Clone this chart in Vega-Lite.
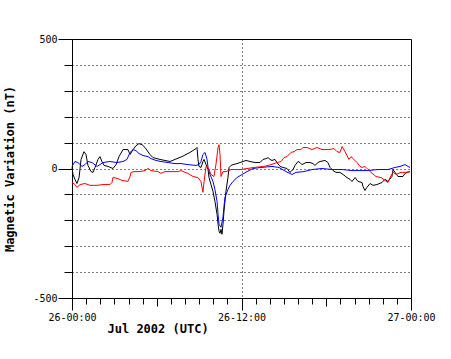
{
  "$schema": "https://vega.github.io/schema/vega-lite/v6.json",
  "width": 339,
  "height": 259,
  "autosize": {"type": "none"},
  "padding": {"left": 72, "top": 39, "right": 40, "bottom": 61},
  "background": "white",
  "config": {
    "view": {"stroke": "black", "strokeWidth": 1},
    "axis": {
      "domainColor": "black",
      "tickColor": "black",
      "gridColor": "black",
      "labelColor": "black",
      "titleColor": "black",
      "labelFont": "DejaVu Sans Mono",
      "titleFont": "DejaVu Sans Mono",
      "labelFontSize": 10,
      "titleFontSize": 12,
      "titleFontWeight": "bold",
      "labelOverlap": false,
      "labelFlush": false,
      "labelBound": false
    }
  },
  "data": {
    "values": [
      {"s":"black","t":0,"v":4},{"s":"black","t":0.07,"v":-23},{"s":"black","t":0.21,"v":-42},{"s":"black","t":0.35,"v":-58},{"s":"black","t":0.5,"v":-35},{"s":"black","t":0.64,"v":35},{"s":"black","t":0.85,"v":65},{"s":"black","t":0.99,"v":54},{"s":"black","t":1.13,"v":12},{"s":"black","t":1.35,"v":-12},{"s":"black","t":1.49,"v":-15},{"s":"black","t":1.63,"v":4},{"s":"black","t":1.84,"v":35},{"s":"black","t":1.98,"v":46},{"s":"black","t":2.12,"v":27},{"s":"black","t":2.27,"v":12},{"s":"black","t":2.55,"v":8},{"s":"black","t":2.9,"v":0},{"s":"black","t":3.12,"v":15},{"s":"black","t":3.33,"v":46},{"s":"black","t":3.61,"v":73},{"s":"black","t":3.96,"v":73},{"s":"black","t":4.11,"v":54},{"s":"black","t":4.32,"v":73},{"s":"black","t":4.53,"v":88},{"s":"black","t":4.74,"v":96},{"s":"black","t":4.96,"v":92},{"s":"black","t":5.17,"v":81},{"s":"black","t":5.52,"v":54},{"s":"black","t":5.73,"v":42},{"s":"black","t":6.23,"v":35},{"s":"black","t":6.94,"v":27},{"s":"black","t":7.29,"v":35},{"s":"black","t":7.79,"v":46},{"s":"black","t":8.35,"v":62},{"s":"black","t":8.78,"v":77},{"s":"black","t":8.85,"v":81},{"s":"black","t":8.92,"v":35},{"s":"black","t":8.99,"v":8},{"s":"black","t":9.13,"v":4},{"s":"black","t":9.27,"v":27},{"s":"black","t":9.35,"v":35},{"s":"black","t":9.49,"v":15},{"s":"black","t":9.63,"v":-4},{"s":"black","t":9.7,"v":-35},{"s":"black","t":9.84,"v":-62},{"s":"black","t":9.98,"v":-88},{"s":"black","t":10.12,"v":-127},{"s":"black","t":10.27,"v":-177},{"s":"black","t":10.34,"v":-215},{"s":"black","t":10.41,"v":-242},{"s":"black","t":10.48,"v":-250},{"s":"black","t":10.55,"v":-235},{"s":"black","t":10.62,"v":-254},{"s":"black","t":10.69,"v":-215},{"s":"black","t":10.76,"v":-165},{"s":"black","t":10.9,"v":-88},{"s":"black","t":11.04,"v":-35},{"s":"black","t":11.12,"v":4},{"s":"black","t":11.26,"v":12},{"s":"black","t":11.4,"v":15},{"s":"black","t":11.68,"v":19},{"s":"black","t":11.89,"v":23},{"s":"black","t":12.11,"v":27},{"s":"black","t":12.32,"v":31},{"s":"black","t":12.6,"v":27},{"s":"black","t":12.96,"v":23},{"s":"black","t":13.31,"v":23},{"s":"black","t":13.52,"v":35},{"s":"black","t":13.73,"v":38},{"s":"black","t":13.88,"v":42},{"s":"black","t":14.02,"v":35},{"s":"black","t":14.16,"v":31},{"s":"black","t":14.37,"v":35},{"s":"black","t":14.51,"v":23},{"s":"black","t":14.73,"v":8},{"s":"black","t":14.94,"v":4},{"s":"black","t":15.22,"v":0},{"s":"black","t":15.43,"v":-15},{"s":"black","t":15.65,"v":-4},{"s":"black","t":15.79,"v":12},{"s":"black","t":16,"v":27},{"s":"black","t":16.14,"v":23},{"s":"black","t":16.28,"v":15},{"s":"black","t":16.57,"v":23},{"s":"black","t":16.85,"v":23},{"s":"black","t":17.06,"v":19},{"s":"black","t":17.2,"v":12},{"s":"black","t":17.42,"v":23},{"s":"black","t":17.56,"v":27},{"s":"black","t":17.91,"v":31},{"s":"black","t":18.12,"v":23},{"s":"black","t":18.27,"v":4},{"s":"black","t":18.48,"v":-8},{"s":"black","t":18.69,"v":-15},{"s":"black","t":18.97,"v":-15},{"s":"black","t":19.19,"v":-23},{"s":"black","t":19.47,"v":-35},{"s":"black","t":19.68,"v":-42},{"s":"black","t":19.82,"v":-50},{"s":"black","t":20.04,"v":-35},{"s":"black","t":20.25,"v":-50},{"s":"black","t":20.53,"v":-54},{"s":"black","t":20.6,"v":-69},{"s":"black","t":20.74,"v":-85},{"s":"black","t":20.88,"v":-73},{"s":"black","t":21.1,"v":-58},{"s":"black","t":21.31,"v":-65},{"s":"black","t":21.59,"v":-62},{"s":"black","t":21.95,"v":-54},{"s":"black","t":22.16,"v":-42},{"s":"black","t":22.37,"v":-50},{"s":"black","t":22.65,"v":-31},{"s":"black","t":22.73,"v":-4},{"s":"black","t":22.87,"v":-15},{"s":"black","t":23.08,"v":-31},{"s":"black","t":23.22,"v":-31},{"s":"black","t":23.43,"v":-31},{"s":"black","t":23.58,"v":-19},{"s":"black","t":23.72,"v":-15},{"s":"black","t":23.93,"v":-12},
      {"s":"blue","t":0,"v":8},{"s":"blue","t":0.21,"v":27},{"s":"blue","t":0.42,"v":23},{"s":"blue","t":0.71,"v":8},{"s":"blue","t":0.92,"v":15},{"s":"blue","t":1.13,"v":27},{"s":"blue","t":1.42,"v":23},{"s":"blue","t":1.77,"v":8},{"s":"blue","t":1.98,"v":15},{"s":"blue","t":2.19,"v":23},{"s":"blue","t":2.69,"v":27},{"s":"blue","t":3.19,"v":23},{"s":"blue","t":3.61,"v":27},{"s":"blue","t":3.89,"v":35},{"s":"blue","t":4.11,"v":62},{"s":"blue","t":4.32,"v":73},{"s":"blue","t":4.53,"v":69},{"s":"blue","t":4.74,"v":58},{"s":"blue","t":5.03,"v":50},{"s":"blue","t":5.38,"v":46},{"s":"blue","t":5.59,"v":38},{"s":"blue","t":5.95,"v":31},{"s":"blue","t":6.3,"v":27},{"s":"blue","t":6.8,"v":23},{"s":"blue","t":7.29,"v":19},{"s":"blue","t":7.72,"v":19},{"s":"blue","t":8.21,"v":15},{"s":"blue","t":8.78,"v":12},{"s":"blue","t":8.99,"v":15},{"s":"blue","t":9.13,"v":27},{"s":"blue","t":9.27,"v":54},{"s":"blue","t":9.42,"v":62},{"s":"blue","t":9.56,"v":35},{"s":"blue","t":9.63,"v":4},{"s":"blue","t":9.77,"v":-23},{"s":"blue","t":9.98,"v":-50},{"s":"blue","t":10.12,"v":-81},{"s":"blue","t":10.27,"v":-127},{"s":"blue","t":10.34,"v":-177},{"s":"blue","t":10.41,"v":-215},{"s":"blue","t":10.55,"v":-227},{"s":"blue","t":10.69,"v":-188},{"s":"blue","t":10.76,"v":-146},{"s":"blue","t":10.83,"v":-112},{"s":"blue","t":11.04,"v":-81},{"s":"blue","t":11.19,"v":-65},{"s":"blue","t":11.4,"v":-50},{"s":"blue","t":11.68,"v":-35},{"s":"blue","t":12.04,"v":-23},{"s":"blue","t":12.39,"v":-12},{"s":"blue","t":12.81,"v":0},{"s":"blue","t":13.38,"v":4},{"s":"blue","t":14.16,"v":8},{"s":"blue","t":14.65,"v":4},{"s":"blue","t":15.15,"v":-12},{"s":"blue","t":15.58,"v":-23},{"s":"blue","t":15.86,"v":-15},{"s":"blue","t":16.42,"v":-12},{"s":"blue","t":16.99,"v":-4},{"s":"blue","t":17.7,"v":0},{"s":"blue","t":18.41,"v":-4},{"s":"blue","t":19.12,"v":-4},{"s":"blue","t":19.82,"v":-8},{"s":"blue","t":20.53,"v":-8},{"s":"blue","t":20.96,"v":-8},{"s":"blue","t":21.66,"v":-4},{"s":"blue","t":22.37,"v":-4},{"s":"blue","t":22.87,"v":4},{"s":"blue","t":23.22,"v":8},{"s":"blue","t":23.58,"v":15},{"s":"blue","t":23.79,"v":8},{"s":"blue","t":23.93,"v":4},
      {"s":"red","t":0,"v":-54},{"s":"red","t":0.21,"v":-62},{"s":"red","t":0.35,"v":-73},{"s":"red","t":0.57,"v":-62},{"s":"red","t":0.92,"v":-58},{"s":"red","t":1.27,"v":-65},{"s":"red","t":1.77,"v":-65},{"s":"red","t":2.19,"v":-62},{"s":"red","t":2.69,"v":-62},{"s":"red","t":2.83,"v":-54},{"s":"red","t":2.9,"v":-35},{"s":"red","t":3.19,"v":-38},{"s":"red","t":3.54,"v":-46},{"s":"red","t":3.96,"v":-50},{"s":"red","t":4.11,"v":-31},{"s":"red","t":4.18,"v":-15},{"s":"red","t":4.46,"v":-12},{"s":"red","t":4.81,"v":-12},{"s":"red","t":5.17,"v":-8},{"s":"red","t":5.38,"v":0},{"s":"red","t":5.59,"v":-8},{"s":"red","t":6.09,"v":-12},{"s":"red","t":6.3,"v":-19},{"s":"red","t":6.58,"v":-12},{"s":"red","t":7.5,"v":-12},{"s":"red","t":7.72,"v":-8},{"s":"red","t":8,"v":-15},{"s":"red","t":8.21,"v":-19},{"s":"red","t":8.57,"v":-31},{"s":"red","t":8.92,"v":-35},{"s":"red","t":9.13,"v":-50},{"s":"red","t":9.27,"v":-92},{"s":"red","t":9.35,"v":-50},{"s":"red","t":9.49,"v":8},{"s":"red","t":9.63,"v":4},{"s":"red","t":9.84,"v":-23},{"s":"red","t":10.05,"v":-31},{"s":"red","t":10.19,"v":15},{"s":"red","t":10.34,"v":81},{"s":"red","t":10.41,"v":92},{"s":"red","t":10.48,"v":54},{"s":"red","t":10.55,"v":-31},{"s":"red","t":10.69,"v":-12},{"s":"red","t":10.9,"v":-12},{"s":"red","t":11.26,"v":-4},{"s":"red","t":11.96,"v":-4},{"s":"red","t":12.88,"v":4},{"s":"red","t":13.59,"v":8},{"s":"red","t":14.09,"v":15},{"s":"red","t":14.51,"v":23},{"s":"red","t":14.8,"v":27},{"s":"red","t":15.01,"v":42},{"s":"red","t":15.22,"v":46},{"s":"red","t":15.5,"v":62},{"s":"red","t":15.72,"v":65},{"s":"red","t":15.93,"v":73},{"s":"red","t":16.21,"v":73},{"s":"red","t":16.35,"v":81},{"s":"red","t":16.64,"v":81},{"s":"red","t":16.99,"v":73},{"s":"red","t":17.35,"v":81},{"s":"red","t":17.7,"v":73},{"s":"red","t":18.19,"v":73},{"s":"red","t":18.55,"v":77},{"s":"red","t":18.76,"v":65},{"s":"red","t":18.97,"v":62},{"s":"red","t":19.12,"v":85},{"s":"red","t":19.33,"v":65},{"s":"red","t":19.61,"v":35},{"s":"red","t":19.75,"v":46},{"s":"red","t":19.96,"v":35},{"s":"red","t":20.18,"v":23},{"s":"red","t":20.39,"v":8},{"s":"red","t":20.53,"v":4},{"s":"red","t":20.74,"v":8},{"s":"red","t":20.96,"v":-4},{"s":"red","t":21.17,"v":-15},{"s":"red","t":21.52,"v":-31},{"s":"red","t":21.88,"v":-35},{"s":"red","t":22.16,"v":-46},{"s":"red","t":22.37,"v":-54},{"s":"red","t":22.51,"v":-35},{"s":"red","t":22.73,"v":-15},{"s":"red","t":22.94,"v":-23},{"s":"red","t":23.29,"v":-15},{"s":"red","t":23.65,"v":-15},{"s":"red","t":23.93,"v":-12}
    ]
  },
  "mark": {"type": "line", "strokeWidth": 1},
  "encoding": {
    "x": {
      "field": "t",
      "type": "quantitative",
      "scale": {"domain": [0, 24], "nice": false, "zero": false},
      "axis": {
        "values": [0,1,2,3,4,5,6,7,8,9,10,11,12,13,14,15,16,17,18,19,20,21,22,23,24],
        "labelExpr": "datum.value === 0 ? '26-00:00' : datum.value === 12 ? '26-12:00' : datum.value === 24 ? '27-00:00' : ''",
        "tickSize": {"condition": [{"test": "datum.value % 12 === 0", "value": 12}, {"test": "datum.value % 6 === 0", "value": 8}], "value": 6},
        "labelPadding": 2,
        "grid": true,
        "gridDash": [1, 3],
        "gridOpacity": {"condition": {"test": "datum.value === 12", "value": 1}, "value": 0},
        "title": "Jul 2002 (UTC)",
        "titleAlign": "left",
        "titleAnchor": "start",
        "titleX": 35,
        "titleY": 25,
        "titleBaseline": "top"
      }
    },
    "y": {
      "field": "v",
      "type": "quantitative",
      "scale": {"domain": [-500, 500], "nice": false},
      "axis": {
        "values": [-500,-400,-300,-200,-100,0,100,200,300,400,500],
        "labelExpr": "datum.value % 500 === 0 ? '' + datum.value : ''",
        "tickSize": {"condition": {"test": "datum.value % 500 === 0", "value": 14}, "value": 8},
        "labelPadding": 1,
        "labelBaseline": "middle",
        "grid": true,
        "gridDash": [1, 3],
        "gridOpacity": {"condition": {"test": "abs(datum.value) === 500", "value": 0}, "value": 1},
        "title": "Magnetic Variation (nT)",
        "titleAngle": -90,
        "titleX": -63,
        "titleY": 129.5,
        "titleAlign": "center",
        "titleBaseline": "middle"
      }
    },
    "color": {
      "field": "s",
      "type": "nominal",
      "scale": {"domain": ["black", "blue", "red"], "range": ["#000000", "#0000ff", "#ff0000"]},
      "legend": null
    }
  }
}
